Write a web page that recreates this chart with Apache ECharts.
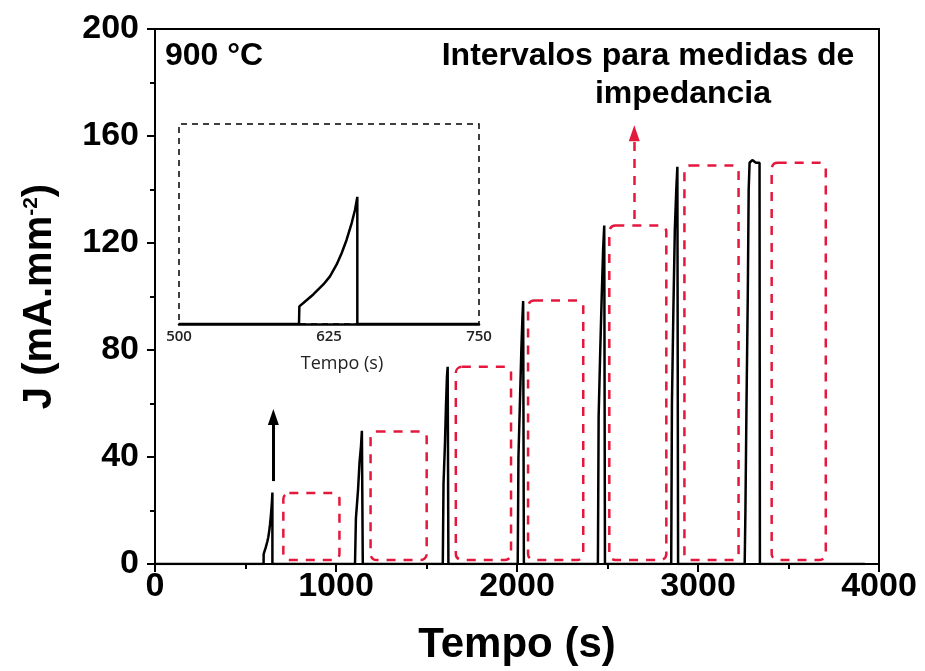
<!DOCTYPE html>
<html>
<head>
<meta charset="utf-8">
<script src="https://cdn.jsdelivr.net/npm/echarts@6/dist/echarts.min.js"></script>
<style>
  html, body { margin: 0; padding: 0; background: #fff; }
  #chart { width: 925px; height: 671px; }
</style>
</head>
<body>
<div id="chart"></div>
<script>
// First current step (also shown magnified in the inset): time (s) and J (mA.mm-2)
const rampT = [600, 600.3, 603.6, 611.9, 620.3, 625.8, 631.4, 635.6, 639.7, 643.9, 646.7, 648.6, 648.6];
const rampJ = [0, 3.7, 4.4, 6.2, 8.3, 10.0, 12.5, 14.9, 17.7, 21.2, 24.0, 26.7, 0];

// Later current steps of the full trace
const laterT = [1105, 1110, 1122, 1130, 1138, 1143, 1147, 1148,
                1590, 1594, 1602, 1608, 1613, 1617, 1620, 1621,
                2004, 2008, 2016, 2024, 2030, 2034, 2037, 2038,
                2447, 2451, 2460, 2468, 2476, 2482, 2485, 2486,
                2852, 2856, 2864, 2872, 2880, 2886, 2889, 2890,
                3258, 3262, 3268, 3275, 3280, 3285, 3300, 3320, 3340, 3342,
                3922];
const laterJ = [0, 17, 28, 38, 44, 49.8, 49.8, 0,
                0, 30, 45, 60, 70, 73.7, 73.7, 0,
                0, 40, 60, 80, 92, 98.3, 98.3, 0,
                0, 55, 80, 100, 118, 126.5, 126.5, 0,
                0, 60, 95, 125, 140, 148.5, 148.5, 0,
                0, 20, 60, 100, 140, 150, 151, 150, 150, 0,
                0];

// Impedance measurement intervals (dashed boxes)
const boxStart = [709, 1191, 1662, 2061, 2510, 2925, 3407];
const boxEnd   = [1019, 1501, 1967, 2366, 2825, 3224, 3706];
const boxTop   = [26.5, 49.5, 73.7, 98.5, 126.5, 149, 150];
const boxBase  = 1.5;

// Arrows: [time, J from, J to]
const blackArrow = [654, 31, 55];
const redArrow = [2648, 129, 161];

const xTicks = [0, 1000, 2000, 3000, 4000];
const yTicks = [0, 40, 80, 120, 160, 200];
const insetTicks = [500, 625, 750];

const mainData = [[0, 0]];
rampT.forEach((t, i) => mainData.push([t, rampJ[i]]));
laterT.forEach((t, i) => mainData.push([t, laterJ[i]]));

const insetData = [[500, 0]];
rampT.forEach((t, i) => insetData.push([t, rampJ[i]]));
insetData.push([750, 0]);

const boxData = boxStart.map((s, i) => [s, boxEnd[i], boxTop[i], boxBase]);

const RED = '#e3183c';
const BOLD = 'Liberation Sans, Arial, sans-serif';
const plain = v => String(v);

const chart = echarts.init(document.getElementById('chart'));
chart.setOption({
  animation: false,
  backgroundColor: '#fff',
  grid: [
    { left: 155, right: 46, top: 29, bottom: 105, show: true, borderColor: '#000', borderWidth: 2, backgroundColor: 'transparent' },
    { left: 179, top: 124, width: 300, height: 200 }
  ],
  xAxis: [
    {
      type: 'value', gridIndex: 0, min: xTicks[0], max: xTicks[xTicks.length - 1], interval: 1000,
      axisLine: { lineStyle: { color: '#000', width: 2 } },
      axisTick: { inside: false, length: 8, lineStyle: { color: '#000', width: 2 } },
      minorTick: { show: true, splitNumber: 2, length: 5, lineStyle: { color: '#000', width: 2 } },
      splitLine: { show: false },
      axisLabel: { color: '#000', fontFamily: BOLD, fontWeight: 'bold', fontSize: 34, margin: 6, formatter: plain },
      name: 'Tempo (s)', nameLocation: 'middle', nameGap: 60,
      nameTextStyle: { color: '#000', fontFamily: BOLD, fontWeight: 'bold', fontSize: 42 }
    },
    {
      type: 'value', gridIndex: 1, min: insetTicks[0], max: insetTicks[2], interval: 125,
      axisLine: { lineStyle: { color: '#000', width: 2.5 } },
      axisTick: { show: false },
      splitLine: { show: false },
      axisLabel: { color: '#222', fontFamily: 'Open Sans, sans-serif', fontWeight: 600, fontSize: 15, margin: 5, formatter: plain },
      name: 'Tempo (s)', nameLocation: 'middle', nameGap: 31,
      nameTextStyle: { color: '#222', fontFamily: 'Open Sans, sans-serif', fontSize: 18, padding: [0, 0, 0, 26] }
    }
  ],
  yAxis: [
    {
      type: 'value', gridIndex: 0, min: yTicks[0], max: yTicks[yTicks.length - 1], interval: 40,
      axisLine: { lineStyle: { color: '#000', width: 2 } },
      axisTick: { inside: false, length: 8, lineStyle: { color: '#000', width: 2 } },
      minorTick: { show: true, splitNumber: 2, length: 5, lineStyle: { color: '#000', width: 2 } },
      splitLine: { show: false },
      axisLabel: { color: '#000', fontFamily: BOLD, fontWeight: 'bold', fontSize: 34, margin: 16, formatter: plain },
      name: 'J (mA.mm{sup|-2})', nameLocation: 'middle', nameGap: 95,
      nameTextStyle: {
        color: '#000', fontFamily: BOLD, fontWeight: 'bold', fontSize: 40,
        rich: { sup: { fontFamily: BOLD, fontWeight: 'bold', fontSize: 21, color: '#000', padding: [0, 0, 18, 0] } }
      }
    },
    {
      type: 'value', gridIndex: 1, min: 0, max: 42, show: false
    }
  ],
  series: [
    {
      type: 'custom', xAxisIndex: 0, yAxisIndex: 0, z: 2,
      data: boxData,
      encode: { x: [0, 1], y: [2, 3] },
      renderItem: function (params, api) {
        const p0 = api.coord([api.value(0), api.value(2)]);
        const p1 = api.coord([api.value(1), api.value(3)]);
        return {
          type: 'rect',
          shape: { x: p0[0], y: p0[1], width: p1[0] - p0[0], height: p1[1] - p0[1], r: 6 },
          style: { fill: 'none', stroke: RED, lineWidth: 2.5, lineDash: [9, 8] }
        };
      }
    },
    {
      type: 'line', xAxisIndex: 0, yAxisIndex: 0, z: 3,
      data: mainData, showSymbol: false, symbol: 'none',
      lineStyle: { color: '#000', width: 2.5 },
      markLine: {
        silent: true, symbol: ['none', 'triangle'], symbolSize: [11, 16],
        label: { show: false },
        data: [
          [{ coord: [blackArrow[0], blackArrow[1]], lineStyle: { color: '#000', width: 3, type: 'solid' } },
           { coord: [blackArrow[0], blackArrow[2]] }],
          [{ coord: [redArrow[0], redArrow[1]], lineStyle: { color: RED, width: 2.5, type: [9, 8] } },
           { coord: [redArrow[0], redArrow[2]] }]
        ]
      }
    },
    {
      type: 'line', xAxisIndex: 1, yAxisIndex: 1, z: 3,
      data: insetData, showSymbol: false, symbol: 'none',
      lineStyle: { color: '#000', width: 2.5 },
      markArea: {
        silent: true,
        itemStyle: { color: 'transparent', borderColor: '#000', borderWidth: 1.5, borderType: [6, 5] },
        data: [[{ coord: [insetTicks[0], 0] }, { coord: [insetTicks[2], 42] }]]
      }
    }
  ],
  graphic: [
    { type: 'text', x: 165, y: 40, style: { text: '900 °C', font: 'bold 32px "Liberation Sans", sans-serif', fill: '#000' } },
    { type: 'text', x: 648, y: 40, style: { text: 'Intervalos para medidas de', font: 'bold 32px "Liberation Sans", sans-serif', fill: '#000', align: 'center' } },
    { type: 'text', x: 683, y: 78, style: { text: 'impedancia', font: 'bold 32px "Liberation Sans", sans-serif', fill: '#000', align: 'center' } }
  ]
});
</script>
</body>
</html>
